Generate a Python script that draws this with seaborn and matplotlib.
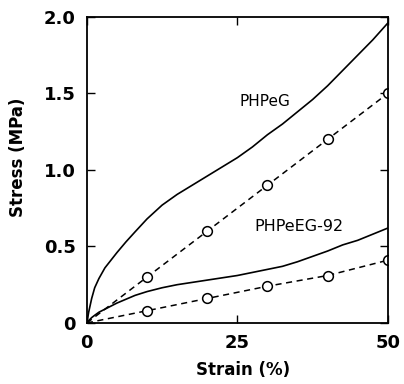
import numpy as np
import pandas as pd
import matplotlib
matplotlib.use("Agg")
import matplotlib.pyplot as plt
import seaborn as sns

# solid curves
strain_curve = [0, 0.3, 0.8, 1.3, 2, 3, 4, 5, 6.5, 8, 10, 12.5, 15, 17.5, 20, 22.5,
                25, 27.5, 30, 32.5, 35, 37.5, 40, 42.5, 45, 47.5, 50]
phpeg_curve = [0, 0.07, 0.16, 0.23, 0.29, 0.36, 0.41, 0.46, 0.53, 0.595, 0.68, 0.77,
               0.84, 0.90, 0.96, 1.02, 1.08, 1.15, 1.23, 1.30, 1.38, 1.46, 1.55,
               1.65, 1.75, 1.85, 1.96]
phpeeg_curve = [0, 0.015, 0.035, 0.05, 0.07, 0.09, 0.11, 0.13, 0.155, 0.18, 0.205,
                0.23, 0.25, 0.265, 0.28, 0.295, 0.31, 0.33, 0.35, 0.37, 0.40, 0.435,
                0.47, 0.51, 0.54, 0.58, 0.62]

# dashed series with open circles
strain_pts = [0, 10, 20, 30, 40, 50]
phpeg_pts = [0, 0.30, 0.60, 0.90, 1.20, 1.50]
phpeeg_pts = [0, 0.08, 0.16, 0.24, 0.31, 0.41]

x_ticks = [0, 25, 50]
y_ticks = [0, 0.5, 1.0, 1.5, 2.0]
y_ticklabels = ["0", "0.5", "1.0", "1.5", "2.0"]

sns.set_style("ticks")
plt.rcParams['font.family'] = ['DejaVu Sans']
for key in ("text.color", "axes.labelcolor", "xtick.color", "ytick.color", "axes.edgecolor"):
    plt.rcParams[key] = "black"

fig = plt.figure(figsize=(4.04, 3.84), dpi=100)
ax = fig.add_axes([0.215, 0.159, 0.745, 0.797])

for y in (phpeg_curve, phpeeg_curve):
    sns.lineplot(x=strain_curve, y=y, ax=ax, color="black", linewidth=1.2)

for y in (phpeg_pts, phpeeg_pts):
    sns.lineplot(x=strain_pts, y=y, ax=ax, color="black", linewidth=1.1,
                 linestyle=(0, (4, 3)))
    ax.plot(strain_pts[1:], y[1:], linestyle="none", marker="o", markersize=7,
            markerfacecolor="white", markeredgecolor="black", markeredgewidth=1.1)

ax.text(25.3, 1.40, "PHPeG", fontsize=11, ha="left", va="bottom")
ax.text(27.9, 0.58, "PHPeEG-92", fontsize=11.5, ha="left", va="bottom")

ax.set_xlim(0, 50)
ax.set_ylim(0, 2.0)
ax.set_xticks(x_ticks)
ax.set_yticks(y_ticks)
ax.set_yticklabels(y_ticklabels)
ax.tick_params(direction="in", length=6, width=1, top=True, right=True,
               labelsize=13, pad=8)
for lab in ax.get_xticklabels() + ax.get_yticklabels():
    lab.set_fontweight("bold")
for s in ax.spines.values():
    s.set_linewidth(1.3)

ax.set_xlabel("Strain (%)", fontsize=12, fontweight="bold")
ax.set_ylabel("Stress (MPa)", fontsize=12, fontweight="bold")
ax.xaxis.set_label_coords(0.52, -0.125)
ax.yaxis.set_label_coords(-0.20, 0.54)

fig.savefig("out.png", dpi=100)
